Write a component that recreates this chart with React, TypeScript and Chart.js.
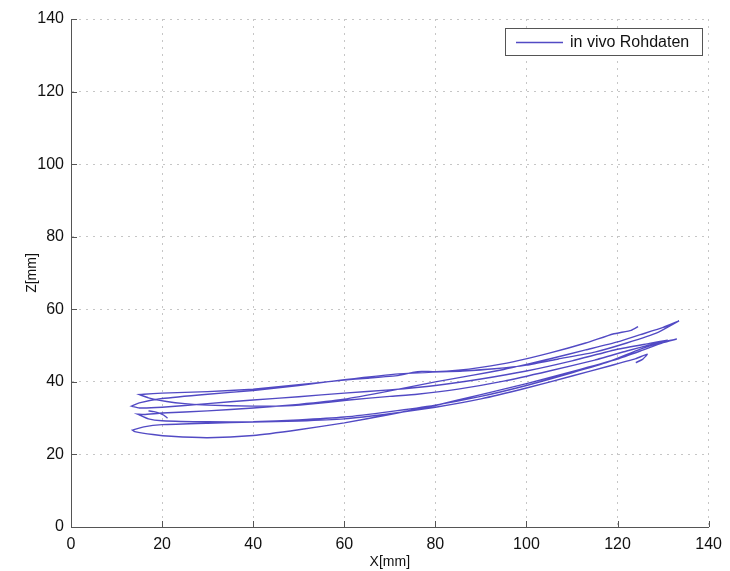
import React, { useEffect, useRef } from "react";
import { Chart, registerables } from "chart.js";

Chart.register(...registerables);

// Tracked marker trajectory, split into passes (X in mm, Z in mm).
const passAX = [124.5, 123, 119, 113, 105, 97, 90, 85, 80, 77, 75, 72, 65, 60, 50, 40, 30, 20, 16, 15];
const passAZ = [55.2, 54.2, 53.2, 50.7, 47.9, 45.5, 44.0, 43.2, 42.8, 42.9, 42.6, 41.8, 41.0, 40.5, 39.2, 38.0, 37.3, 36.9, 36.6, 36.5];

const passBX = [15, 17, 21, 25, 30, 40, 46, 52, 61, 70, 76, 85, 95, 105, 115, 122, 128, 131];
const passBZ = [36.5, 35.6, 34.6, 34.0, 33.6, 33.3, 33.3, 33.8, 35.0, 36.0, 36.6, 38.0, 40.2, 43.0, 46.0, 48.5, 50.5, 51.5];

const passCX = [131, 127, 120, 110, 100, 90, 80, 70, 60, 50, 40, 30, 20, 15, 13.3];
const passCZ = [51.5, 50.6, 49.0, 45.8, 43.0, 40.8, 39.0, 37.8, 36.9, 35.9, 35.0, 34.0, 33.0, 32.8, 33.3];

const passDX = [13.3, 15, 20, 30, 40, 50, 60, 72, 86, 93, 100, 107, 115, 122, 129, 133.5];
const passDZ = [33.3, 34.2, 35.4, 36.6, 37.6, 39.0, 40.6, 42.2, 43.0, 43.6, 44.6, 46.3, 48.2, 50.7, 53.7, 56.8];

const passEX = [133.5, 130, 125, 120, 113, 105, 100, 95, 88, 80, 70, 60, 50, 40, 30, 20, 16, 14.6];
const passEZ = [56.8, 55.0, 53.0, 51.0, 48.8, 46.3, 44.8, 43.4, 41.8, 40.0, 37.5, 35.2, 33.8, 32.8, 32.0, 31.4, 31.0, 31.1];

const passFX = [14.6, 17, 20, 30, 40, 50, 60, 70, 80, 90, 100, 110, 118, 125, 130, 133];
const passFZ = [31.1, 29.8, 29.3, 29.0, 29.0, 29.5, 30.3, 31.8, 33.6, 36.0, 39.0, 42.5, 45.5, 49.0, 51.0, 51.8];

const passGX = [133, 130, 125, 120, 112, 100, 90, 80, 70, 60, 50, 40, 30, 22, 18, 14, 13.5];
const passGZ = [51.8, 50.8, 48.5, 46.3, 43.5, 39.5, 36.5, 33.5, 31.0, 28.7, 26.8, 25.2, 24.6, 25.0, 25.5, 26.3, 26.7];

const passHX = [13.5, 16, 20, 30, 40, 50, 60, 70, 80, 90, 100, 110, 118, 124, 126.5, 125.5, 124];
const passHZ = [26.7, 27.6, 28.2, 28.6, 28.9, 29.2, 29.8, 31.2, 33.0, 35.3, 38.3, 41.6, 44.3, 46.4, 47.6, 46.2, 45.3];

const startX = [21.2, 20.4, 19.4, 18.2, 17.0];
const startZ = [30.0, 30.8, 31.4, 31.8, 32.0];

const passes: [number[], number[]][] = [
  [passAX, passAZ],
  [passBX, passBZ],
  [passCX, passCZ],
  [passDX, passDZ],
  [passEX, passEZ],
  [passFX, passFZ],
  [passGX, passGZ],
  [passHX, passHZ],
];

const tickStep = 20;
const axisMin = 0;
const axisMax = 140;
const seriesLabel = "in vivo Rohdaten";
const xTitle = "X[mm]";
const zTitle = "Z[mm]";

const FONT = "'Liberation Sans', Arial, Helvetica, sans-serif";
const LINE_COLOR = "rgba(52, 42, 186, 0.85)";

function buildPoints() {
  const pts: { x: number; y: number | null }[] = [];
  passes.forEach(([xs, zs]) => {
    xs.forEach((x, i) => pts.push({ x, y: zs[i] }));
  });
  pts.push({ x: startX[0], y: null });
  startX.forEach((x, i) => pts.push({ x, y: startZ[i] }));
  return pts;
}

// Inward tick marks and the boxed legend, drawn over the plot.
const matlabAxes = {
  id: "matlabAxes",
  afterDraw(chart: any) {
    const { ctx, chartArea, scales } = chart;
    ctx.save();
    ctx.strokeStyle = "#555";
    ctx.lineWidth = 1;
    scales.x.ticks.forEach((t: any) => {
      const px = Math.round(scales.x.getPixelForValue(t.value)) + 0.5;
      ctx.beginPath();
      ctx.moveTo(px, chartArea.bottom);
      ctx.lineTo(px, chartArea.bottom - 6);
      ctx.stroke();
    });
    scales.y.ticks.forEach((t: any) => {
      const py = Math.round(scales.y.getPixelForValue(t.value)) + 0.5;
      ctx.beginPath();
      ctx.moveTo(chartArea.left, py);
      ctx.lineTo(chartArea.left + 6, py);
      ctx.stroke();
    });

    // legend box
    const ds = chart.data.datasets[0];
    const bx = 505.5;
    const by = 28.5;
    const bw = 197;
    const bh = 27;
    ctx.fillStyle = "#fff";
    ctx.fillRect(bx, by, bw, bh);
    ctx.strokeStyle = "#555";
    ctx.strokeRect(bx, by, bw, bh);
    ctx.strokeStyle = ds.borderColor;
    ctx.lineWidth = 1.3;
    ctx.beginPath();
    ctx.moveTo(516, 42.5);
    ctx.lineTo(563, 42.5);
    ctx.stroke();
    ctx.fillStyle = "#111";
    ctx.font = `16px ${FONT}`;
    ctx.textBaseline = "middle";
    ctx.textAlign = "left";
    ctx.fillText(ds.label, 570, 42.5);
    ctx.restore();
  },
};

export default function App() {
  const ref = useRef<HTMLCanvasElement | null>(null);

  useEffect(() => {
    document.body.style.margin = "0";
    if (!ref.current) return;
    const chart = new Chart(ref.current, {
      type: "scatter",
      data: {
        datasets: [
          {
            label: seriesLabel,
            data: buildPoints(),
            showLine: true,
            spanGaps: false,
            borderColor: LINE_COLOR,
            borderWidth: 1.4,
            pointRadius: 0,
            tension: 0.15,
            fill: false,
          },
        ],
      },
      options: {
        animation: false,
        responsive: false,
        maintainAspectRatio: false,
        devicePixelRatio: 1,
        layout: { padding: { left: 0, right: 15, top: 19, bottom: 0 } },
        plugins: {
          legend: { display: false },
          tooltip: { enabled: false },
        },
        scales: {
          x: {
            type: "linear",
            min: axisMin,
            max: axisMax,
            ticks: {
              stepSize: tickStep,
              font: { family: FONT, size: 16 },
              color: "#111",
              padding: 8,
              maxRotation: 0,
            },
            grid: { color: "#c6c6c6", drawTicks: false, lineWidth: 1 },
            border: { display: true, color: "#555", width: 1, dash: [2, 5] },
            title: {
              display: true,
              text: xTitle,
              font: { family: FONT, size: 14 },
              color: "#111",
              padding: { top: 0, bottom: 0 },
            },
            afterFit: (s: any) => {
              s.height = 44;
            },
          },
          y: {
            type: "linear",
            min: axisMin,
            max: axisMax,
            ticks: {
              stepSize: tickStep,
              font: { family: FONT, size: 16 },
              color: "#111",
              padding: 7,
            },
            grid: { color: "#c6c6c6", drawTicks: false, lineWidth: 1 },
            border: { display: true, color: "#555", width: 1, dash: [2, 5] },
            title: {
              display: true,
              text: zTitle,
              font: { family: FONT, size: 14 },
              color: "#111",
              padding: { top: 24, bottom: 0 },
            },
            afterFit: (s: any) => {
              s.width = 71;
            },
          },
        },
      },
      plugins: [matlabAxes],
    });
    return () => chart.destroy();
  }, []);

  return (
    <div style={{ width: 730, height: 571 }}>
      <canvas ref={ref} width={730} height={571} style={{ display: "block" }} />
    </div>
  );
}
